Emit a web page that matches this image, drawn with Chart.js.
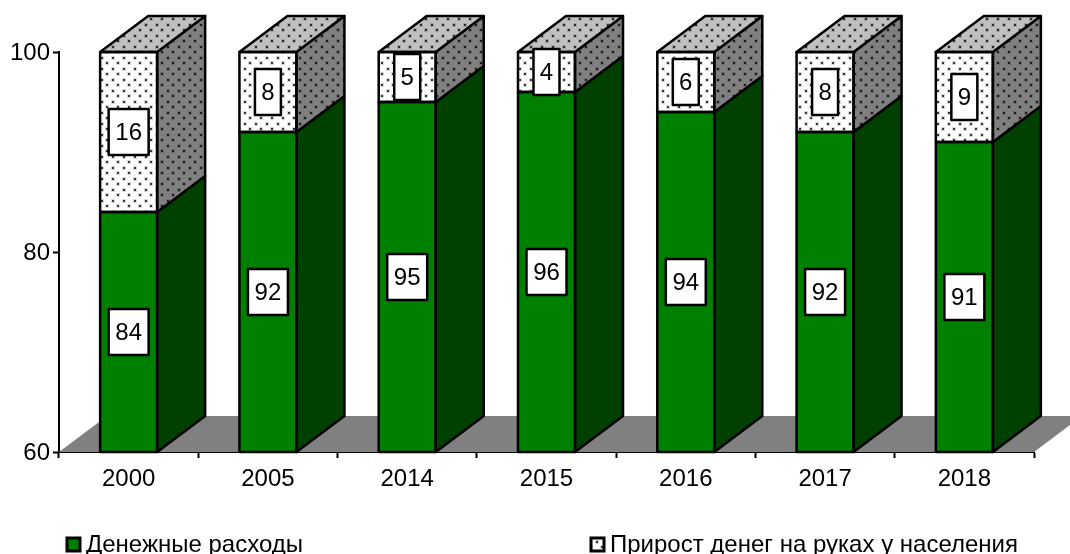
<!DOCTYPE html>
<html><head><meta charset="utf-8">
<style>html,body{margin:0;padding:0;background:#fff}canvas{display:block}</style>
<script src="https://cdn.jsdelivr.net/npm/chart.js@4"></script>
</head><body>
<div style="width:1070px;height:554px"><canvas id="c" width="1070" height="554"></canvas></div>
<script>
const categories = ['2000','2005','2014','2015','2016','2017','2018'];
const spending = [84,92,95,96,94,92,91];
const cashGrowth = [16,8,5,4,6,8,9];
const seriesNames = ['Денежные расходы','Прирост денег на руках у населения'];
const yTicks = [60,80,100];

const FONT = '"Liberation Sans", Arial, sans-serif';
const DX = 48, DY = 36, LW = 2.5;

function dots(bg){
  const t = document.createElement('canvas'); t.width = 11; t.height = 11;
  const g = t.getContext('2d');
  g.fillStyle = bg; g.fillRect(0,0,11,11);
  const d = (x,y)=>{
    g.fillStyle='rgba(0,0,0,0.15)'; g.fillRect(x-1,y-1,4,4);
    g.fillStyle='rgba(0,0,0,0.75)'; g.fillRect(x,y,2,2);
  };
  d(2,2); d(7,7);
  return g.createPattern(t,'repeat');
}
const pFront = dots('#ffffff'), pTop = dots('#c0c0c0'), pSide = dots('#808080');

function poly(ctx,pts,fill,stroke){
  ctx.beginPath();
  pts.forEach((p,i)=> i? ctx.lineTo(p[0],p[1]) : ctx.moveTo(p[0],p[1]));
  ctx.closePath();
  if(fill){ctx.fillStyle=fill;ctx.fill();}
  if(stroke){ctx.strokeStyle='#000';ctx.lineWidth=LW;ctx.lineJoin='round';ctx.stroke();}
}

const floor3d = {
  id:'floor3d',
  beforeDatasetsDraw(chart){
    const {left,right,bottom}=chart.chartArea, ctx=chart.ctx;
    poly(ctx,[[left,bottom],[left+DX,bottom-DY],[right+DX,bottom-DY],[right,bottom]],'#808080');
  }
};

const bars3d = {
  id:'bars3d',
  afterDatasetsDraw(chart){
    const ctx=chart.ctx, bottom=chart.chartArea.bottom;
    ctx.save();
    const sides=[['#004000'],[pSide]];
    chart.data.datasets.forEach((ds,di)=>{
      chart.getDatasetMeta(di).data.forEach(el=>{
        const p=el.getProps(['x','y','base','width'],true);
        const l=p.x-p.width/2, r=p.x+p.width/2, t=p.y, b=Math.min(p.base,bottom);
        poly(ctx,[[r,t],[r+DX,t-DY],[r+DX,b-DY],[r,b]],sides[di][0],true);
        if(di===chart.data.datasets.length-1){
          poly(ctx,[[l,t],[l+DX,t-DY],[r+DX,t-DY],[r,t]],pTop,true);
        }
        ctx.strokeStyle='#000';ctx.lineWidth=LW;
        ctx.strokeRect(l,t,r-l,b-t);
      });
    });
    chart.data.datasets.forEach((ds,di)=>{
      chart.getDatasetMeta(di).data.forEach((el,i)=>{
        const p=el.getProps(['x','y','base'],true);
        const t=p.y,b=Math.min(p.base,bottom),cy=(t+b)/2;
        const txt=String(ds.data[i]);
        ctx.font='24px '+FONT;
        const w=txt.length>1?40:26, h=46;
        ctx.fillStyle='#fff';ctx.strokeStyle='#000';ctx.lineWidth=LW;
        ctx.fillRect(p.x-w/2,cy-h/2,w,h);ctx.strokeRect(p.x-w/2,cy-h/2,w,h);
        ctx.fillStyle='#000';ctx.textAlign='center';ctx.textBaseline='middle';
        ctx.fillText(txt,p.x,cy+1);
      });
    });
    ctx.restore();
  }
};

const legendRow = {
  id:'legendRow',
  afterDraw(chart){
    const ctx=chart.ctx;
    ctx.save();
    const items=[[67,'#008000',seriesNames[0]],[591,pFront,seriesNames[1]]];
    items.forEach(([x,fill,label])=>{
      ctx.fillStyle=fill;ctx.strokeStyle='#000';ctx.lineWidth=3;
      ctx.fillRect(x,538,13,13);ctx.strokeRect(x,538,13,13);
      ctx.fillStyle='#000';ctx.font='24px '+FONT;ctx.textAlign='left';ctx.textBaseline='alphabetic';
      ctx.fillText(label,x+19,552);
    });
    ctx.restore();
  }
};

new Chart(document.getElementById('c'),{
  type:'bar',
  data:{labels:categories,datasets:[
    {label:seriesNames[0],data:spending,backgroundColor:'#008000',borderWidth:0,barPercentage:57/139.3,categoryPercentage:1},
    {label:seriesNames[1],data:cashGrowth,backgroundColor:pFront,borderWidth:0,barPercentage:57/139.3,categoryPercentage:1}
  ]},
  plugins:[floor3d,bars3d,legendRow],
  options:{
    responsive:false,animation:false,
    events:[],
    layout:{padding:{top:52,right:36,left:0,bottom:0}},
    plugins:{legend:{display:false},tooltip:{enabled:false},title:{display:false}},
    scales:{
      x:{stacked:true,z:1,
        afterFit(s){s.height=102;},
        border:{color:'#000',width:2},
        grid:{drawOnChartArea:false,color:'#000',tickColor:'#000',tickWidth:2,tickLength:6},
        ticks:{color:'#000',font:{family:FONT,size:24},padding:7,maxRotation:0,autoSkip:false}
      },
      y:{stacked:true,min:60,max:100,z:1,
        afterFit(s){s.width=59;},
        afterBuildTicks(s){s.ticks=yTicks.map(v=>({value:v}));},
        border:{color:'#000',width:2},
        grid:{drawOnChartArea:false,color:'#000',tickColor:'#000',tickWidth:2,tickLength:6},
        ticks:{color:'#000',font:{family:FONT,size:24},padding:3,labelOffset:1}
      }
    }
  }
});
</script>
</body></html>
